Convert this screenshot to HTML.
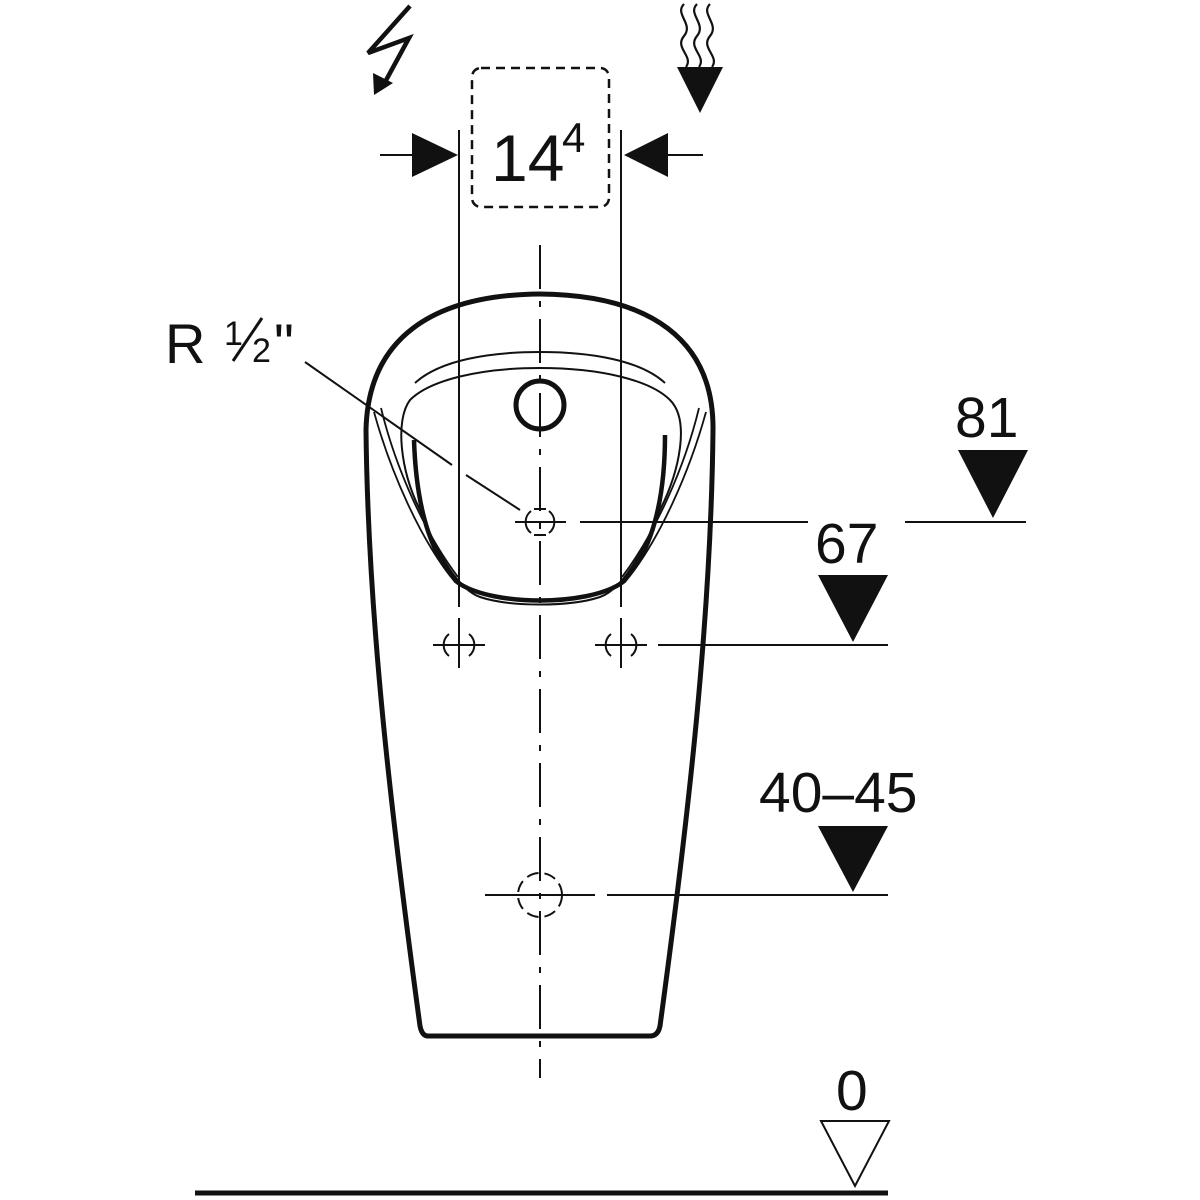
<!DOCTYPE html>
<html><head><meta charset="utf-8"><style>
html,body{margin:0;padding:0;background:#fff;width:1200px;height:1200px;overflow:hidden}
svg{display:block}
text{font-family:"Liberation Sans",sans-serif;fill:#111}
</style></head><body>
<svg width="1200" height="1200" viewBox="0 0 1200 1200" xmlns="http://www.w3.org/2000/svg">
<g fill="none" stroke="#111" stroke-linecap="butt">
<path d="M428,1036 L650,1036 Q658,1036 660,1026 C688,820 711,620 713,430 C714,340 650,295 540,294 C430,295 368,340 366,430 C368,620 392,820 420,1026 Q422,1036 428,1036 Z" stroke-width="5"/>
<path d="M374,412 C390,470 420,540 455,582 C485,606 595,606 625,582 C660,540 690,470 706,412" stroke-width="1.8"/>
<path d="M381,408 C396,470 426,535 458,577" stroke-width="1.8"/>
<path d="M699,408 C684,470 654,535 622,577" stroke-width="1.8"/>
<path d="M415,383 C440,360 490,352 540,352 C590,352 640,360 665,383" stroke-width="2"/>
<path d="M410,400 C430,380 480,368 540,368 C600,368 650,380 670,400 C690,420 680,470 660,510 C640,560 620,590 600,597 C570,607 510,607 480,597 C460,590 440,560 420,510 C400,470 395,420 410,400 Z" stroke-width="2"/>
<path d="M414,440 C416,500 428,555 460,584" stroke-width="4.5"/>
<path d="M665,435 C665,500 652,555 620,584" stroke-width="4.5"/>
<path d="M460,584 C495,606 585,606 620,584" stroke-width="4.5"/>
<circle cx="540" cy="405" r="24" stroke-width="5"/>
<line x1="459" y1="130" x2="459" y2="607" stroke-width="2"/>
<line x1="621" y1="130" x2="621" y2="607" stroke-width="2"/>
<line x1="459" y1="618" x2="459" y2="668" stroke-width="2"/>
<line x1="621" y1="618" x2="621" y2="668" stroke-width="2"/>
<line x1="540" y1="245" x2="540" y2="1078" stroke-width="2" stroke-dasharray="44,12,6,12"/>
<rect x="472" y="68" width="137" height="139" rx="9" stroke-width="2.5" stroke-dasharray="9,6"/>
<line x1="380" y1="155" x2="415" y2="155" stroke-width="2"/>
<line x1="665" y1="155" x2="703" y2="155" stroke-width="2"/>
<line x1="305" y1="362" x2="452" y2="465" stroke-width="2"/>
<line x1="466" y1="475" x2="520" y2="510" stroke-width="2"/>
<g stroke-width="2">
<line x1="515" y1="522" x2="566" y2="522"/>
<path d="M531,511 A14,14 0 0 0 531,533 M549,511 A14,14 0 0 1 549,533 M534,509 L546,509 M534,535 L546,535"/>
<line x1="433" y1="645" x2="485" y2="645"/>
<path d="M449,634 A14,14 0 0 0 449,656 M469,634 A14,14 0 0 1 469,656"/>
<line x1="595" y1="645" x2="647" y2="645"/>
<path d="M611,634 A14,14 0 0 0 611,656 M631,634 A14,14 0 0 1 631,656"/>
<line x1="485" y1="895" x2="595" y2="895"/>
<circle cx="540" cy="895" r="22" stroke-dasharray="12,6"/>
</g>
<line x1="580" y1="522" x2="808" y2="522" stroke-width="2"/>
<line x1="905" y1="522" x2="1026" y2="522" stroke-width="2"/>
<line x1="658" y1="645" x2="888" y2="645" stroke-width="2"/>
<line x1="607" y1="895" x2="888" y2="895" stroke-width="2"/>
<line x1="195" y1="1193" x2="888" y2="1193" stroke-width="5"/>
<polygon points="821,1121 889,1121 855,1186" stroke-width="2"/>
<path d="M684,4 C674,14 694,24 684,36 C674,48 694,56 686,67" stroke-width="2.2"/>
<path d="M697,4 C687,14 707,24 697,36 C687,48 707,56 699,67" stroke-width="2.2"/>
<path d="M710,4 C700,14 720,24 710,36 C700,48 720,56 712,67" stroke-width="2.2"/>
<polyline points="410,6 368,53 409,38 384,84" stroke-width="4.5" stroke-linejoin="miter"/>
<line x1="262" y1="318" x2="233" y2="361" stroke-width="3"/>
</g>
<g fill="#111">
<polygon points="412,133 458,155 412,177"/>
<polygon points="668,133 624,155 668,177"/>
<polygon points="958,450 1028,450 993,518"/>
<polygon points="818,575 888,575 853,642"/>
<polygon points="818,826 888,826 853,892"/>
<polygon points="677,67 723,67 700,113"/>
<polygon points="373,73 393,83 374,95"/>
</g>
<text x="491" y="181" font-size="66">14</text>
<text x="562" y="152" font-size="42">4</text>
<text x="165" y="363" font-size="56">R</text>
<text x="224" y="345" font-size="34">1</text>
<text x="252" y="362" font-size="34">2</text>
<text x="274" y="363" font-size="56">"</text>
<text x="955" y="437" font-size="57">81</text>
<text x="815" y="563" font-size="57">67</text>
<text x="759" y="812" font-size="57">40–45</text>
<text x="836" y="1110" font-size="57">0</text>
</svg>
</body></html>
